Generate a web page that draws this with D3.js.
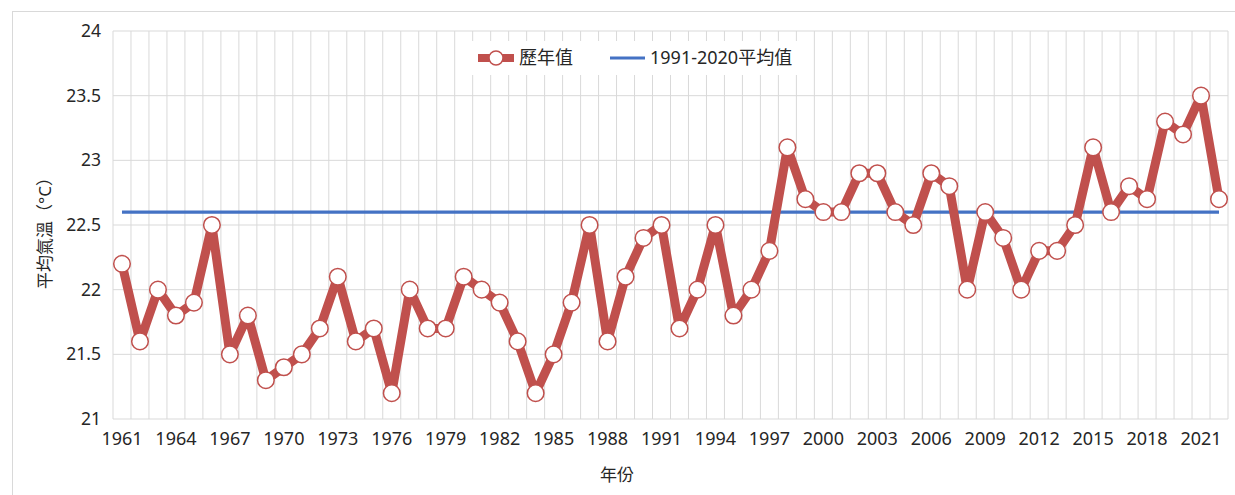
<!DOCTYPE html>
<html><head><meta charset="utf-8">
<script src="https://cdn.jsdelivr.net/npm/d3@7"></script>
<style>
html,body{margin:0;padding:0;background:#fff;}
svg text{font-family:"Noto Sans","Noto Sans CJK TC",sans-serif;fill:#262626;}
</style></head>
<body><svg id="c" width="1235" height="495"></svg>
<script>
const years = d3.range(1961, 2023);
const tempValues = [22.2,21.6,22.0,21.8,21.9,22.5,21.5,21.8,21.3,21.4,
  21.5,21.7,22.1,21.6,21.7,21.2,22.0,21.7,21.7,22.1,
  22.0,21.9,21.6,21.2,21.5,21.9,22.5,21.6,22.1,22.4,
  22.5,21.7,22.0,22.5,21.8,22.0,22.3,23.1,22.7,22.6,
  22.6,22.9,22.9,22.6,22.5,22.9,22.8,22.0,22.6,22.4,
  22.0,22.3,22.3,22.5,23.1,22.6,22.8,22.7,23.3,23.2,
  23.5,22.7];
const normalValue = 22.6;
const yTicks = [21,21.5,22,22.5,23,23.5,24];
const xTickLabels = d3.range(1961, 2023, 3);
const seriesNames = ["歷年值","1991-2020平均值"];
const yTitle = "平均氣溫（°C）";
const xTitle = "年份";

const FONT = '"Noto Sans","Noto Sans CJK TC",sans-serif';
const svg = d3.select("#c");
const L = 113, R = 1228, T = 31, B = 419;

// outer chart border
svg.append("rect").attr("x",12.5).attr("y",11.5).attr("width",1240).attr("height",500)
  .attr("fill","none").attr("stroke","#d9d9d9").attr("stroke-width",1);

const xBand = d3.scaleBand().domain(years).range([L,R]).padding(0);
const x = d => xBand(d) + xBand.bandwidth()/2;
const y = d3.scaleLinear().domain([21,24]).range([B,T]);

const grid = svg.append("g");
const bounds = years.map(d=>xBand(d)).concat([R]);
grid.selectAll(".vg").data(bounds).join("line")
  .attr("x1",d=>d).attr("x2",d=>d).attr("y1",T).attr("y2",B)
  .attr("stroke","#d9d9d9").attr("stroke-width",1);
grid.selectAll(".hg").data(yTicks).join("line")
  .attr("x1",L).attr("x2",R).attr("y1",d=>y(d)).attr("y2",d=>y(d))
  .attr("stroke","#d9d9d9").attr("stroke-width",1);

// y axis labels
const yAxis = d3.axisLeft(y).tickValues(yTicks).tickSize(0).tickPadding(12).tickFormat(d3.format("~g"));
const ya = svg.append("g").attr("transform",`translate(${L},0)`).call(yAxis);
ya.select(".domain").remove();
ya.selectAll("text").attr("font-size",17.5).attr("fill","#262626").style("font-family",FONT);

// x axis labels
const xAxis = d3.axisBottom(xBand).tickValues(xTickLabels).tickSize(0).tickPadding(13);
const xa = svg.append("g").attr("transform",`translate(0,${B})`).call(xAxis);
xa.select(".domain").remove();
xa.selectAll("text").attr("font-size",18).attr("fill","#262626").style("font-family",FONT);

// titles
svg.append("text").attr("transform",`translate(51,${(T+B)/2+4}) rotate(-90)`)
  .attr("text-anchor","middle").attr("font-size",17).text(yTitle);
svg.append("text").attr("x",617).attr("y",481).attr("text-anchor","middle")
  .attr("font-size",17).text(xTitle);

// normal line
svg.append("line").attr("x1",x(years[0])).attr("x2",x(years[years.length-1]))
  .attr("y1",y(normalValue)).attr("y2",y(normalValue))
  .attr("stroke","#4472c4").attr("stroke-width",3.2);

// series line
const data = years.map((yr,i)=>({yr, v:tempValues[i]}));
svg.append("path").datum(data)
  .attr("d", d3.line().x(d=>x(d.yr)).y(d=>y(d.v)))
  .attr("fill","none").attr("stroke","#c0504d").attr("stroke-width",9).attr("stroke-linejoin","round");
svg.selectAll(".pt").data(data).join("circle")
  .attr("cx",d=>x(d.yr)).attr("cy",d=>y(d.v)).attr("r",8.3)
  .attr("fill","#fff").attr("stroke","#c0504d").attr("stroke-width",1.5);

// legend
const lg = svg.append("g");
lg.append("rect").attr("x",468).attr("y",41).attr("width",345).attr("height",34).attr("fill","#fff");
lg.append("line").attr("x1",478).attr("x2",514).attr("y1",58).attr("y2",58)
  .attr("stroke","#c0504d").attr("stroke-width",8);
lg.append("circle").attr("cx",496).attr("cy",58).attr("r",7)
  .attr("fill","#fff").attr("stroke","#c0504d").attr("stroke-width",1.5);
lg.append("text").attr("x",519).attr("y",64).attr("font-size",18).text(seriesNames[0]);
lg.append("line").attr("x1",610).attr("x2",645).attr("y1",58).attr("y2",58)
  .attr("stroke","#4472c4").attr("stroke-width",3.2);
lg.append("text").attr("x",650).attr("y",64).attr("font-size",18).text(seriesNames[1]);
</script></body></html>
